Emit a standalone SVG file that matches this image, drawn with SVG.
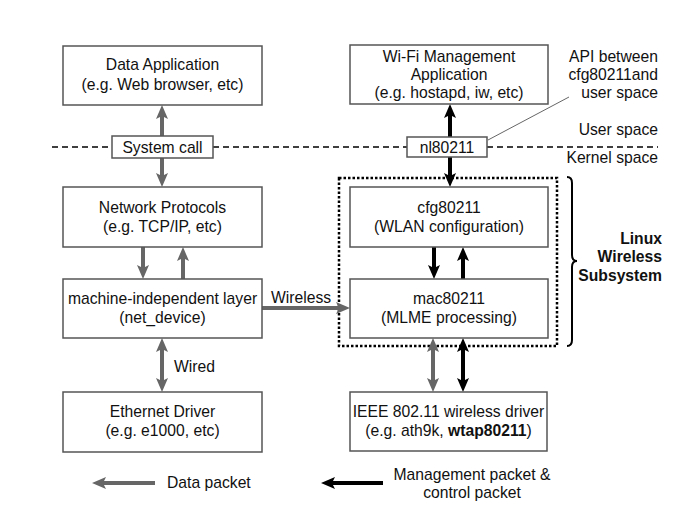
<svg xmlns="http://www.w3.org/2000/svg" width="686" height="522" viewBox="0 0 686 522">
<style>
.box{fill:#fff;stroke:#555;stroke-width:1.5}
.t{font-family:"Liberation Sans",Arial,Helvetica,sans-serif;font-size:15.7px;fill:#111;text-anchor:middle}
.r{text-anchor:end}
.l{text-anchor:start}
.b{font-weight:bold}
.ga{stroke:#666;stroke-width:4;fill:none;marker-end:url(#hg)}
.ba{stroke:#000;stroke-width:4;fill:none;marker-end:url(#hb)}
.gd{marker-start:url(#hg)}
.bd{marker-start:url(#hb)}
.dash{stroke:#000;stroke-width:1.5;stroke-dasharray:6 4;fill:none}
</style>
<defs>
<marker id="hg" markerUnits="userSpaceOnUse" markerWidth="14" markerHeight="12" refX="4" refY="6" orient="auto-start-reverse" viewBox="0 0 14 12">
<path d="M0,0 L14,6 L0,12 L3,6 z" fill="#666"/>
</marker>
<marker id="hb" markerUnits="userSpaceOnUse" markerWidth="14" markerHeight="12" refX="4" refY="6" orient="auto-start-reverse" viewBox="0 0 14 12">
<path d="M0,0 L14,6 L0,12 L3,6 z" fill="#000"/>
</marker>
</defs>
<rect width="686" height="522" fill="#fff"/>

<g id="separators">
<line class="dash" x1="52" y1="147" x2="112" y2="147"/>
<line class="dash" x1="213" y1="147" x2="407" y2="147"/>
<line class="dash" x1="487" y1="147" x2="658" y2="147"/>
<text class="t r" x="658" y="135">User space</text>
<text class="t r" x="658" y="163">Kernel space</text>
</g>

<g id="subsystem">
<rect x="339" y="178" width="218" height="168" fill="none" stroke="#000" stroke-width="2.5" stroke-dasharray="2.5 2"/>
<path d="M567,177 Q572,177 572,183 L572,255 Q572,261 577,261 Q572,261 572,267 L572,340 Q572,346 567,346" fill="none" stroke="#000" stroke-width="2"/>
<text class="t r b" x="662" y="244">Linux</text>
<text class="t r b" x="662" y="262">Wireless</text>
<text class="t r b" x="662" y="281">Subsystem</text>
</g>

<g id="connectors">
<line class="ga" x1="162" y1="136" x2="162" y2="115"/>
<line class="ga" x1="162" y1="158" x2="162" y2="177"/>
<line class="ga" x1="143" y1="247" x2="143" y2="269"/>
<line class="ga" x1="183" y1="279" x2="183" y2="257"/>
<line class="ga gd" x1="162" y1="348" x2="162" y2="382"/>
<line class="ga" x1="262" y1="308" x2="340" y2="308"/>
<line class="ba" x1="450" y1="137" x2="450" y2="114"/>
<line class="ba" x1="450" y1="157" x2="450" y2="177"/>
<line class="ba" x1="434" y1="247" x2="434" y2="269"/>
<line class="ba" x1="463" y1="279" x2="463" y2="257"/>
<line class="ga gd" x1="433" y1="348" x2="433" y2="382"/>
<line class="ba bd" x1="463" y1="348" x2="463" y2="382"/>
<line x1="488" y1="140" x2="569" y2="97" stroke="#666" stroke-width="1"/>
<text class="t l" x="174" y="372">Wired</text>
<text class="t l" x="271" y="303">Wireless</text>
</g>

<g id="data-app">
<rect class="box" x="63" y="46" width="199" height="59"/>
<text class="t" x="162.5" y="70">Data Application</text>
<text class="t" x="162.5" y="90">(e.g. Web browser, etc)</text>
</g>

<g id="system-call">
<rect class="box" x="112" y="136" width="101" height="22"/>
<text class="t" x="162.5" y="152.5">System call</text>
</g>

<g id="network-protocols">
<rect class="box" x="63" y="187" width="199" height="60"/>
<text class="t" x="162.5" y="213">Network Protocols</text>
<text class="t" x="162.5" y="232">(e.g. TCP/IP, etc)</text>
</g>

<g id="net-device">
<rect class="box" x="63" y="279" width="199" height="59"/>
<text class="t" x="162.5" y="304">machine-independent layer</text>
<text class="t" x="162.5" y="323">(net_device)</text>
</g>

<g id="ethernet-driver">
<rect class="box" x="63" y="392" width="199" height="60"/>
<text class="t" x="162.5" y="417">Ethernet Driver</text>
<text class="t" x="162.5" y="436">(e.g. e1000, etc)</text>
</g>

<g id="wifi-app">
<rect class="box" x="350" y="45" width="198" height="59"/>
<text class="t" x="449" y="62">Wi-Fi Management</text>
<text class="t" x="449" y="80">Application</text>
<text class="t" x="449" y="98">(e.g. hostapd, iw, etc)</text>
</g>

<g id="nl80211">
<rect class="box" x="407" y="137" width="80" height="20"/>
<text class="t" x="447" y="152.5">nl80211</text>
</g>

<g id="api-note">
<text class="t r" x="658" y="62">API between</text>
<text class="t r" x="658" y="80">cfg80211and</text>
<text class="t r" x="658" y="98">user space</text>
</g>

<g id="cfg80211">
<rect class="box" x="350" y="187" width="198" height="60"/>
<text class="t" x="449" y="213">cfg80211</text>
<text class="t" x="449" y="232">(WLAN configuration)</text>
</g>

<g id="mac80211">
<rect class="box" x="350" y="279" width="198" height="59"/>
<text class="t" x="449" y="304">mac80211</text>
<text class="t" x="449" y="323">(MLME processing)</text>
</g>

<g id="wireless-driver">
<rect class="box" x="350" y="392" width="197" height="59"/>
<text class="t" x="448.5" y="417">IEEE 802.11 wireless driver</text>
<text class="t" x="448.5" y="436">(e.g. ath9k, <tspan class="b">wtap80211</tspan>)</text>
</g>

<g id="legend">
<line class="ga" x1="155" y1="483" x2="102" y2="483"/>
<text class="t l" x="167" y="488">Data packet</text>
<line class="ba" x1="383" y1="483" x2="331" y2="483"/>
<text class="t" x="472" y="480">Management packet &amp;</text>
<text class="t" x="472" y="498">control packet</text>
</g>
</svg>
